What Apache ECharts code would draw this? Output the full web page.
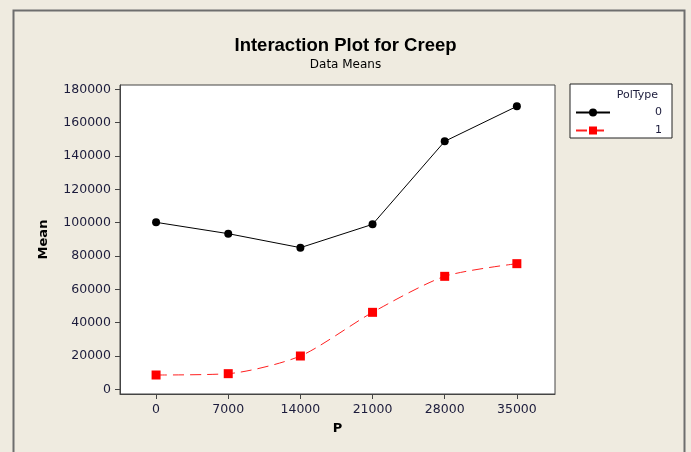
<!DOCTYPE html>
<html>
<head>
<meta charset="utf-8">
<script src="https://cdn.jsdelivr.net/npm/echarts@6/dist/echarts.min.js"></script>
<style>
  html, body { margin: 0; padding: 0; background: #efebe0; }
  #chart { width: 691px; height: 452px; }
</style>
</head>
<body>
<div id="chart"></div>
<script>
// P levels and data means per PolType
var pLevels = [0, 7000, 14000, 21000, 28000, 35000];
var polType0 = [100200, 93400, 85000, 99000, 148800, 169800];
var polType1 = [8600, 9400, 20000, 46200, 67800, 75400];
var yTicks = [0, 20000, 40000, 60000, 80000, 100000, 120000, 140000, 160000, 180000];
var seriesNames = ['0', '1'];

function pairs(xs, ys) {
  var out = [];
  for (var i = 0; i < xs.length; i++) out.push([xs[i], ys[i]]);
  return out;
}

var myChart = echarts.init(document.getElementById('chart'));
var labelColor = '#1c1c3c';
var plain = function (v) { return String(v); };

var option = {
  animation: false,
  backgroundColor: '#efebe0',
  title: [{
    text: 'Interaction Plot for Creep',
    left: 'center',
    top: 31,
    textStyle: { fontFamily: 'Liberation Sans', fontWeight: 'bold', fontSize: 18.5, color: '#000' }
  }, {
    text: 'Data Means',
    left: 'center',
    top: 54,
    textStyle: { fontFamily: 'DejaVu Sans', fontWeight: 'normal', fontSize: 12, color: '#000' }
  }],
  graphic: [{
    type: 'rect',
    shape: { x: 13.5, y: 10.5, width: 671, height: 470 },
    style: { fill: 'none', stroke: '#6e6e6e', lineWidth: 2 },
    silent: true
  }, {
    type: 'text',
    right: 691 - 658,
    top: 90,
    style: { text: 'PolType', font: '11px DejaVu Sans', fill: labelColor },
    z: 100
  }],
  legend: {
    orient: 'vertical',
    left: 570,
    top: 84,
    padding: [23, 10, 2, 5],
    itemGap: 7,
    itemWidth: 34,
    itemHeight: 10,
    backgroundColor: '#fff',
    borderColor: '#222',
    borderWidth: 1,
    data: seriesNames,
    formatter: '{a|{name}}',
    textStyle: {
      fontFamily: 'DejaVu Sans', fontSize: 11, color: labelColor,
      rich: { a: { width: 47, align: 'right', fontFamily: 'DejaVu Sans', fontSize: 11, color: labelColor } }
    }
  },
  grid: {
    left: 120,
    right: 136,
    top: 85,
    bottom: 58,
    show: true,
    backgroundColor: '#fff',
    borderColor: '#444',
    borderWidth: 1
  },
  xAxis: {
    type: 'value',
    min: -3500,
    max: 38700,
    name: 'P',
    nameLocation: 'middle',
    nameGap: 28,
    nameTextStyle: { fontFamily: 'DejaVu Sans', fontWeight: 'bold', fontSize: 13, color: '#000' },
    axisLine: { show: true, onZero: false, lineStyle: { color: '#444', width: 1 } },
    axisTick: { show: true, length: 5, lineStyle: { color: '#444' }, customValues: pLevels },
    axisLabel: { fontFamily: 'DejaVu Sans', fontSize: 12.5, color: labelColor, margin: 9, customValues: pLevels, formatter: plain },
    splitLine: { show: false }
  },
  yAxis: {
    type: 'value',
    min: -2800,
    max: 182600,
    name: 'Mean',
    nameLocation: 'middle',
    nameGap: 70,
    nameRotate: 90,
    nameTextStyle: { fontFamily: 'DejaVu Sans', fontWeight: 'bold', fontSize: 13, color: '#000' },
    axisLine: { show: true, onZero: false, lineStyle: { color: '#444', width: 1 } },
    axisTick: { show: true, length: 5, lineStyle: { color: '#444' }, customValues: yTicks },
    axisLabel: { fontFamily: 'DejaVu Sans', fontSize: 12.5, color: labelColor, margin: 9, customValues: yTicks, formatter: plain },
    splitLine: { show: false }
  },
  series: [{
    name: '0',
    type: 'line',
    data: pairs(pLevels, polType0),
    symbol: 'circle',
    symbolSize: 8,
    color: '#000',
    lineStyle: { color: '#000', width: 1 },
    itemStyle: { color: '#000' }
  }, {
    name: '1',
    type: 'line',
    data: pairs(pLevels, polType1),
    symbol: 'rect',
    symbolSize: 9,
    smooth: 0.25,
    color: '#ff0000',
    lineStyle: { color: '#ff2020', width: 1, type: [11, 6] },
    itemStyle: { color: '#ff0000' }
  }]
};

myChart.setOption(option);
</script>
</body>
</html>
